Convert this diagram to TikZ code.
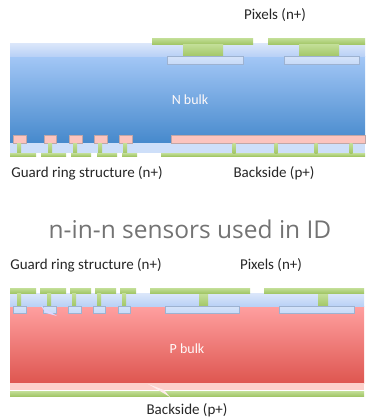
\documentclass[tikz,border=0pt]{standalone}
\usepackage{fontspec}
\setmainfont{Carlito}
\newfontfamily\titlefont{Open Sans}
\definecolor{barcol}{HTML}{B4D77E}
\definecolor{bardark}{HTML}{A3C768}
\definecolor{layertop}{HTML}{DCE7FA}
\definecolor{layerbot}{HTML}{B9D1F6}
\definecolor{pinkcol}{HTML}{FCC4BE}
\tikzset{greenbar/.style={top color=barcol!80!white,bottom color=bardark,draw=none}}
\tikzset{layerbox/.style={top color=layertop,bottom color=layerbot,draw=none}}
\tikzset{implantbox/.style={top color=layerbot!60!white,bottom color=layerbot!80!white,draw=black!15!layerbot,line width=.4pt}}
\tikzset{pinkbox/.style={fill=pinkcol,draw=red!30!black!35,line width=.4pt}}
\tikzset{mylabel/.style={font=\fontsize{15}{17}\selectfont,text=black!85}}
\tikzset{bulklabel/.style={font=\fontsize{14}{16}\selectfont,text=white!90!pink}}
\begin{document}
\begin{tikzpicture}[x=1pt,y=-1pt]
	\useasboundingbox (0,0) rectangle (365,418);

	% upper sensor
	\shade[top color={rgb,255:red,163;green,199;blue,246},bottom color={rgb,255:red,70;green,137;blue,204}] (10,56) rectangle (365,143);
	\shade[layerbox] (10,43) rectangle (365,56);
	\fill[white] (253,38) rectangle (268,43);
	\fill[layerbot!70!white] (10,143) rectangle (365,153);

	\foreach \xa/\xb in {152/253,268/365}
		\shade[greenbar] (\xa,38) rectangle (\xb,44);
	\foreach \xa/\xb in {183/223,299/339}
		\shade[greenbar] (\xa,44) rectangle (\xb,56);
	\foreach \xa/\xb in {167/243,284/359}
		\shade[implantbox] (\xa,56) rectangle (\xb,64);

	\foreach \xa/\xb in {13/26,44/56,69/82,94/107,119/132}
		\draw[pinkbox] (\xa,135) rectangle (\xb,143);
	\draw[pinkbox] (171,135) rectangle (365,143);

	\foreach \xc in {19,50,75,100,125}
		\shade[greenbar] (\xc-2,143) rectangle (\xc+2,153);
	\foreach \xa/\xb in {10/36,41/66,71/91,97/117,122/137,161/365}
		\shade[greenbar] (\xa,153) rectangle (\xb,156);
	\foreach \xc in {234,276,316,351}
		\shade[greenbar] (\xc-1.5,143) rectangle (\xc+1.5,153);

	\node[mylabel] (pixelsup) at (275,15) {Pixels (n+)};
	\node[bulklabel] (nbulk) at (190,100) {N bulk};
	\node[mylabel] (guardup) at (87,173) {Guard ring structure (n+)};
	\node[mylabel] (backup) at (274,173) {Backside (p+)};

	\node[font=\titlefont\fontsize{24.5}{28}\selectfont,text=black!55] (title) at (190,229) {n-in-n sensors used in ID};

	% lower sensor
	\node[mylabel] (guardlow) at (86,265) {Guard ring structure (n+)};
	\node[mylabel] (pixelslow) at (271,265) {Pixels (n+)};

	\shade[top color={rgb,255:red,255;green,160;blue,160},bottom color={rgb,255:red,222;green,86;blue,80}] (10,306) rectangle (364,383);
	\shade[layerbox] (10,293) rectangle (364,306);
	\fill[pinkcol!80!white] (10,383) rectangle (364,390);
	\shade[greenbar] (10,391) rectangle (364,396);

	\foreach \xa/\xb in {10/36,40/66,70/91,95/116,120/136,150/250,264/364}
		\shade[greenbar] (\xa,288) rectangle (\xb,293);
	\foreach \xc in {19,49,74,99,124}
		\shade[greenbar] (\xc-2,293) rectangle (\xc+2,306);
	\foreach \xa/\xb in {199/208,318/328}
		\shade[greenbar] (\xa,294) rectangle (\xb,306);
	\foreach \xa/\xb in {13/26,43/56,68/81,93/105,118/130,165/239,279/354}
		\shade[implantbox] (\xa,306) rectangle (\xb,313.5);

	% cursor smudges
	\fill[white!85!blue] (41,306) -- (57,316) -- (46,313) -- cycle;
	\fill[white!70!pink] (148,384) -- (164,390) -- (170,397) -- (160,391) -- cycle;

	\node[bulklabel] (pbulk) at (187,349) {P bulk};
	\node[mylabel] (backlow) at (187,410) {Backside (p+)};
\end{tikzpicture}
\end{document}
